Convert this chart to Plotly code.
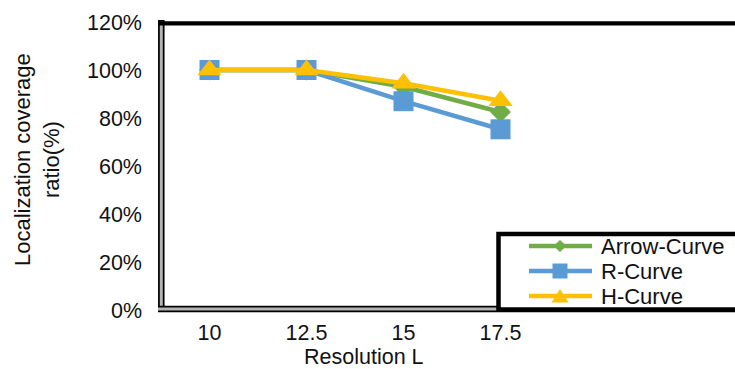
import plotly.graph_objects as go

# ---- data ----
resolution = ["10", "12.5", "15", "17.5"]
arrow_curve = [1.00, 1.00, 0.93, 0.825]
r_curve = [1.00, 1.00, 0.87, 0.753]
h_curve = [1.00, 1.00, 0.945, 0.872]
series_names = ["Arrow-Curve", "R-Curve", "H-Curve"]
y_ticks = [0, 0.2, 0.4, 0.6, 0.8, 1.0, 1.2]

# ---- styles ----
W, H = 735, 369
ML, MR, MT, MB = 161, 0, 22, 59
PW, PH = W - ML - MR, H - MT - MB
FONT = "Liberation Sans, Arial, sans-serif"
TXT = "#111111"
GREEN, BLUE, YELLOW = "#70AD47", "#5B9BD5", "#FFC000"


def px(x):
    return (x - ML) / PW


def py(y):
    return (H - MB - y) / PH


fig = go.Figure()
styles = [
    (arrow_curve, GREEN, "diamond", 16),
    (r_curve, BLUE, "square", 20),
    (h_curve, YELLOW, "triangle-up", 21),
]
for name, (vals, col, sym, sz) in zip(series_names, styles):
    fig.add_trace(go.Scatter(
        x=resolution, y=vals, name=name, mode="lines+markers",
        line=dict(color=col, width=4.5),
        marker=dict(symbol=sym, size=sz, color=col, line=dict(width=0)),
        showlegend=False,
    ))

shapes = []
# plot frame: double line left & bottom, thick top
for (x0, y0, x1, y1) in [(161.3, 20, 161.3, 309), (158, 309, 740, 309)]:
    shapes.append(dict(type="line", xref="paper", yref="paper",
                       x0=px(x0), y0=py(y0), x1=px(x1), y1=py(y1),
                       line=dict(color="#000000", width=6.5), layer="above"))
    shapes.append(dict(type="line", xref="paper", yref="paper",
                       x0=px(x0), y0=py(y0 + (1.5 if x0 == x1 else 0)), x1=px(x1), y1=py(y1),
                       line=dict(color="#b4b4b4", width=3), layer="above"))
shapes.append(dict(type="line", xref="paper", yref="paper",
                   x0=px(158.5), y0=py(23.3), x1=px(740), y1=py(23.3),
                   line=dict(color="#000000", width=4.2), layer="above"))

# legend box
shapes.append(dict(type="rect", xref="paper", yref="paper",
                   x0=px(498.5), y0=py(309.5), x1=px(760), y1=py(234),
                   line=dict(color="#000000", width=4.5), fillcolor="#ffffff",
                   layer="above"))

rows = [246, 271, 296]
cx = 560
annotations = []
for name, (vals, col, sym, sz), ry in zip(series_names, styles, rows):
    shapes.append(dict(type="line", xref="paper", yref="paper",
                       x0=px(529), y0=py(ry), x1=px(592), y1=py(ry),
                       line=dict(color=col, width=4.5), layer="above"))
    if sym == "diamond":
        pts = [(cx - 6.5, ry), (cx, ry - 6), (cx + 6.5, ry), (cx, ry + 6)]
    elif sym == "square":
        pts = [(cx - 7.5, ry - 7.5), (cx + 7.5, ry - 7.5), (cx + 7.5, ry + 7.5), (cx - 7.5, ry + 7.5)]
    else:
        pts = [(cx - 8.5, ry + 6.5), (cx + 8.5, ry + 6.5), (cx, ry - 7)]
    path = "M " + " L ".join(f"{px(a):.5f},{py(b):.5f}" for a, b in pts) + " Z"
    shapes.append(dict(type="path", xref="paper", yref="paper", path=path,
                       fillcolor=col, line=dict(width=0), layer="above"))
    annotations.append(dict(xref="paper", yref="paper", x=px(599), y=py(ry),
                            xanchor="left", yanchor="middle", showarrow=False,
                            text=name, font=dict(family=FONT, size=22, color=TXT)))

# axis titles
annotations.append(dict(xref="paper", yref="paper", x=px(364), y=py(356.5),
                        xanchor="center", yanchor="middle", showarrow=False,
                        text="Resolution L", font=dict(family=FONT, size=21.5, color=TXT)))
annotations.append(dict(xref="paper", yref="paper", x=px(37), y=py(160),
                        xanchor="center", yanchor="middle", showarrow=False,
                        textangle=-90, text="Localization coverage<br>ratio(%)",
                        font=dict(family=FONT, size=22, color=TXT)))

fig.update_layout(
    width=W, height=H,
    margin=dict(l=ML, r=MR, t=MT, b=MB, autoexpand=False),
    paper_bgcolor="white", plot_bgcolor="white",
    font=dict(family=FONT, size=21.5, color=TXT),
    shapes=shapes, annotations=annotations,
    xaxis=dict(type="category", categoryorder="array", categoryarray=resolution,
               range=[-0.5, (W - ML) / 97.0 - 0.5], showgrid=False, zeroline=False,
               showline=False, ticks="", ticklabelstandoff=7,
               tickfont=dict(family=FONT, size=21.5, color=TXT), fixedrange=True),
    yaxis=dict(range=[0, 1.2], tickvals=y_ticks, tickformat=".0%", showgrid=False,
               zeroline=False, showline=False, ticks="", ticklabelstandoff=18,
               tickfont=dict(family=FONT, size=21.5, color=TXT), fixedrange=True),
    showlegend=False,
)

fig.write_html("out.html")
